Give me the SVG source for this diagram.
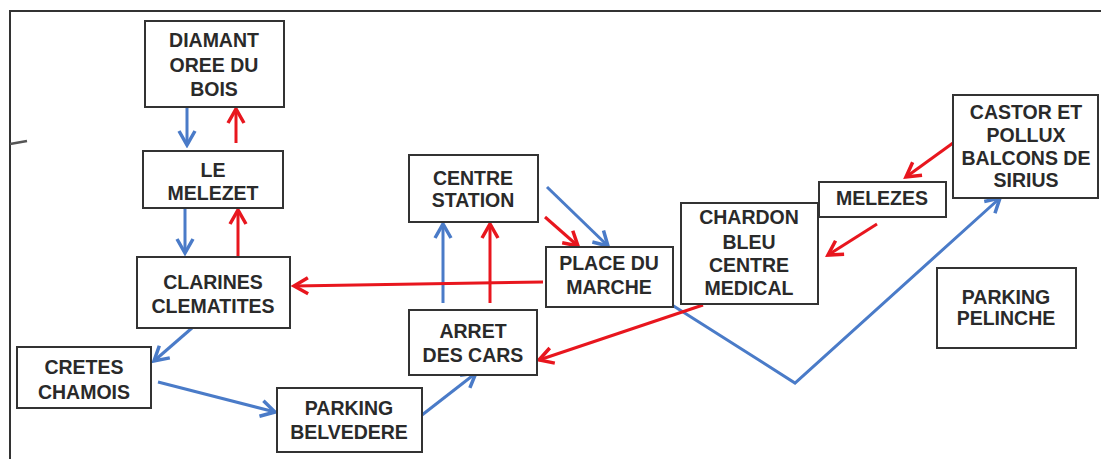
<svg xmlns="http://www.w3.org/2000/svg" width="1101" height="459" viewBox="0 0 1101 459">
<style>
.box{fill:#fff;stroke:#333;stroke-width:2}
.t{font-family:"Liberation Sans",Arial,sans-serif;font-weight:bold;font-size:19.5px;fill:#2a2a2a;text-anchor:middle}
.b{stroke:#4a7bc8;stroke-width:3;fill:none;marker-end:url(#ab)}
.r{stroke:#e8161e;stroke-width:3;fill:none;marker-end:url(#ar)}
</style>
<defs>
<marker id="ab" markerUnits="userSpaceOnUse" viewBox="0 0 20 20" refX="17" refY="10" markerWidth="20" markerHeight="20" orient="auto">
<path d="M3,2 L17,10 L3,18" fill="none" stroke="#4a7bc8" stroke-width="3.5"/>
</marker>
<marker id="ar" markerUnits="userSpaceOnUse" viewBox="0 0 20 20" refX="17" refY="10" markerWidth="20" markerHeight="20" orient="auto">
<path d="M3,2 L17,10 L3,18" fill="none" stroke="#e8161e" stroke-width="3.5"/>
</marker>
</defs>
<rect width="1101" height="459" fill="#fff"/>
<g id="frame" stroke="#333" stroke-width="2" fill="none">
<path d="M10,459 L10,11 L1101,11"/>
<path d="M10,144 L27,141" stroke-width="2.5" stroke="#555"/>
</g>
<g id="connectors">
<path class="b" d="M187,108 L187,145"/>
<path class="b" d="M185,209 L185,253"/>
<path class="b" d="M192,328 L154,361"/>
<path class="b" d="M158,382 L275,412"/>
<path class="b" d="M422,415 L476,373"/>
<path class="b" d="M443,303 L443,224"/>
<path class="b" d="M547,187 L608,246"/>
<path class="b" d="M672,305 L795,383 L1000,198"/>
<path class="r" d="M236,143 L236,109"/>
<path class="r" d="M238,257 L238,210"/>
<path class="r" d="M543,282 L294,286"/>
<path class="r" d="M490,303 L490,224"/>
<path class="r" d="M545,217 L578,246"/>
<path class="r" d="M703,305 L539,360"/>
<path class="r" d="M953,143 L906,177"/>
<path class="r" d="M877,224 L828,255"/>
</g>
<g id="diamant"><rect class="box" x="145" y="21" width="139" height="86"/>
<text class="t" x="214" y="47">DIAMANT</text><text class="t" x="214" y="72">OREE DU</text><text class="t" x="214" y="96">BOIS</text></g>
<g id="melezet"><rect class="box" x="143" y="151" width="140" height="57"/>
<text class="t" x="213" y="177">LE</text><text class="t" x="213" y="200">MELEZET</text></g>
<g id="clarines"><rect class="box" x="137" y="257" width="153" height="71"/>
<text class="t" x="213" y="289">CLARINES</text><text class="t" x="213" y="313">CLEMATITES</text></g>
<g id="cretes"><rect class="box" x="17" y="347" width="134" height="61"/>
<text class="t" x="84" y="374">CRETES</text><text class="t" x="84" y="399">CHAMOIS</text></g>
<g id="belvedere"><rect class="box" x="277" y="388" width="145" height="64"/>
<text class="t" x="349" y="415">PARKING</text><text class="t" x="349" y="439">BELVEDERE</text></g>
<g id="centre"><rect class="box" x="409" y="155" width="129" height="67"/>
<text class="t" x="473" y="185">CENTRE</text><text class="t" x="473" y="207">STATION</text></g>
<g id="place"><rect class="box" x="546" y="247" width="127" height="60"/>
<text class="t" x="609" y="270">PLACE DU</text><text class="t" x="609" y="294">MARCHE</text></g>
<g id="arret"><rect class="box" x="409" y="310" width="128" height="65"/>
<text class="t" x="473" y="338">ARRET</text><text class="t" x="473" y="362">DES CARS</text></g>
<g id="chardon"><rect class="box" x="681" y="203" width="137" height="101"/>
<text class="t" x="749" y="224">CHARDON</text><text class="t" x="749" y="249">BLEU</text><text class="t" x="749" y="272">CENTRE</text><text class="t" x="749" y="295">MEDICAL</text></g>
<g id="melezes"><rect class="box" x="819" y="182" width="127" height="35"/>
<text class="t" x="882" y="205">MELEZES</text></g>
<g id="castor"><rect class="box" x="953" y="95" width="145" height="103"/>
<text class="t" x="1026" y="119">CASTOR ET</text><text class="t" x="1026" y="142">POLLUX</text><text class="t" x="1026" y="165">BALCONS DE</text><text class="t" x="1026" y="187">SIRIUS</text></g>
<g id="pelinche"><rect class="box" x="937" y="268" width="139" height="80"/>
<text class="t" x="1006" y="304">PARKING</text><text class="t" x="1006" y="325">PELINCHE</text></g>
</svg>
